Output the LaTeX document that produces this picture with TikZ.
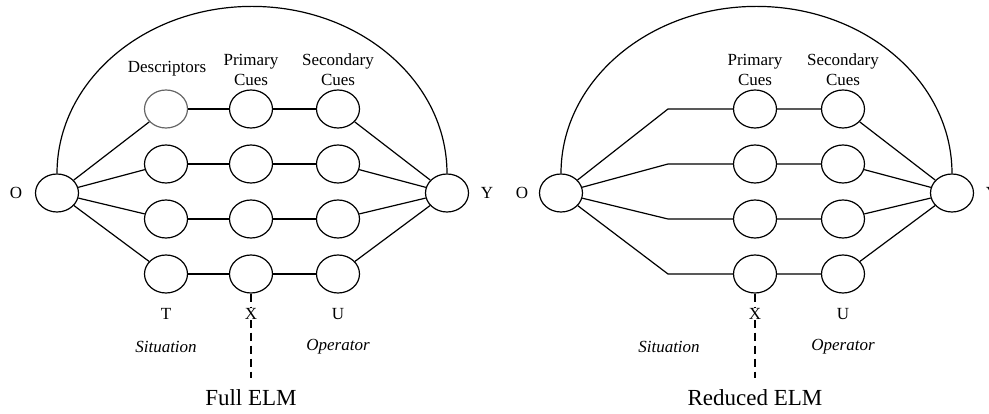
\documentclass[tikz,border=0pt]{standalone}
\usepackage{fontspec}
\setmainfont{Liberation Serif}
\usetikzlibrary{shapes.geometric}
\begin{document}
\begin{tikzpicture}[x=1pt,y=1pt,
  ell/.style={draw,ellipse,line width=1.2pt,minimum width=43pt,minimum height=38pt,inner sep=0pt},
  wire/.style={line width=1.2pt},
  lab/.style={font=\fontsize{17}{20}\selectfont,align=center,inner sep=1pt},
  ital/.style={font=\fontsize{17}{20}\selectfont\itshape,inner sep=1pt},
  ttl/.style={font=\fontsize{23}{26}\selectfont,inner sep=1pt},
  vdash/.style={line width=1.2pt,dash pattern=on 8pt off 5pt on 8pt off 5pt on 8pt off 5pt}]
\useasboundingbox (0,0) rectangle (989,414);
% ---------- Full ELM ----------
\node[ell] (O) at (57,221) {};
\node[ell] (Y) at (447,221) {};
\node[ell,draw=gray!80!black] (d1) at (166,305) {};
\node[ell] (d2) at (166,250) {};
\node[ell] (d3) at (166,195) {};
\node[ell] (d4) at (166,140) {};
\node[ell] (p1) at (251,305) {};
\node[ell] (p2) at (251,250) {};
\node[ell] (p3) at (251,195) {};
\node[ell] (p4) at (251,140) {};
\node[ell] (s1) at (338,305) {};
\node[ell] (s2) at (338,250) {};
\node[ell] (s3) at (338,195) {};
\node[ell] (s4) at (338,140) {};
\draw[wire] (O.north) arc[start angle=180,end angle=0,x radius=195pt,y radius=167pt];
\foreach \i in {1,2,3,4}{
  \draw[wire] (O) -- (d\i);
  \draw[wire] (d\i) -- (p\i) -- (s\i);
  \draw[wire] (s\i) -- (Y);
}
\node[lab] (lO) at (16,221) {O};
\node[lab] (lY) at (487,221) {Y};
\node[lab] (ldesc) at (167,345) {Descriptors};
\node[lab] (lprim) at (251,344) {Primary\\Cues};
\node[lab] (lsec) at (338,344) {Secondary\\Cues};
\coordinate (xe) at (251,36);
\draw[vdash] (p4.south) -- (xe);
\node[lab,fill=white] (lT) at (166,100) {T};
\node[lab,fill=white,inner sep=0.5pt] (lX) at (251,100) {X};
\node[lab] (lU) at (338,100) {U};
\node[ital] (lsit) at (166,67) {Situation};
\node[ital] (lop) at (338,67) {Operator};
\node[ttl] (full) at (251,16) {Full ELM};
% ---------- Reduced ELM ----------
\node[ell] (O2) at (561,221) {};
\node[ell] (Y2) at (952,221) {};
\coordinate (b1) at (668,305);
\coordinate (b2) at (668,250);
\coordinate (b3) at (668,195);
\coordinate (b4) at (668,140);
\node[ell] (q1) at (755,305) {};
\node[ell] (q2) at (755,250) {};
\node[ell] (q3) at (755,195) {};
\node[ell] (q4) at (755,140) {};
\node[ell] (t1) at (843,305) {};
\node[ell] (t2) at (843,250) {};
\node[ell] (t3) at (843,195) {};
\node[ell] (t4) at (843,140) {};
\draw[wire] (O2.north) arc[start angle=180,end angle=0,x radius=195.5pt,y radius=167pt];
\foreach \i in {1,2,3,4}{
  \draw[wire] (O2) -- (b\i) -- (q\i) -- (t\i);
  \draw[wire] (t\i) -- (Y2);
}
\node[lab] (lO2) at (522,221) {O};
\node[lab] (lY2) at (992,221) {Y};
\node[lab] (lprim2) at (755,344) {Primary\\Cues};
\node[lab] (lsec2) at (843,344) {Secondary\\Cues};
\coordinate (xe2) at (755,36);
\draw[vdash] (q4.south) -- (xe2);
\node[lab,fill=white,inner sep=0.5pt] (lX2) at (755,100) {X};
\node[lab] (lU2) at (843,100) {U};
\node[ital] (lsit2) at (669,67) {Situation};
\node[ital] (lop2) at (843,67) {Operator};
\node[ttl] (red) at (755,16) {Reduced ELM};
\end{tikzpicture}
\end{document}
